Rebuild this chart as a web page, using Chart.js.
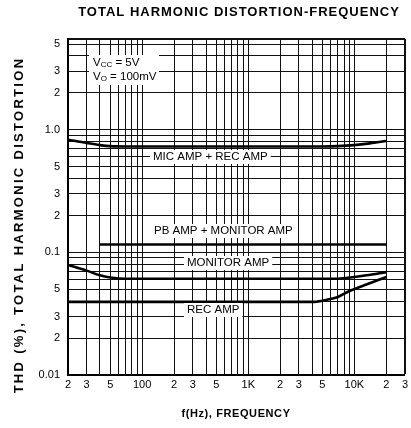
<!DOCTYPE html>
<html>
<head>
<meta charset="utf-8">
<script src="https://cdn.jsdelivr.net/npm/chart.js@4.4.1/dist/chart.umd.min.js"></script>
<style>
  html, body { margin:0; padding:0; background:#fff; }
  #wrap { width:411px; height:428px; }
</style>
</head>
<body>
<div id="wrap"><canvas id="thd" width="411" height="428"></canvas></div>
<script>
'use strict';
// ── THD vs frequency, log-log

const micFreq = [20, 30, 40, 50, 70, 5000, 7000, 10000, 14000, 20000];
const micThd  = [0.83, 0.78, 0.75, 0.735, 0.73, 0.73, 0.735, 0.75, 0.775, 0.81];

const pbFreq  = [40, 20000];
const pbThd   = [0.116, 0.116];

const monFreq = [20, 30, 40, 50, 70, 7000, 10000, 13000, 20000];
const monThd  = [0.079, 0.071, 0.065, 0.0625, 0.061, 0.061, 0.063, 0.065, 0.069];

const recFreq = [20, 4200, 5500, 7000, 8800, 12400, 20000];
const recThd  = [0.0395, 0.0395, 0.041, 0.0433, 0.048, 0.054, 0.063];

// tick labels (only on 2, 3, 5 and decades)
const xTickValues = [20, 30, 50, 100, 200, 300, 500, 1000, 2000, 3000, 5000, 10000, 20000, 30000];
const xTickLabels = ['2', '3', '5', '100', '2', '3', '5', '1K', '2', '3', '5', '10K', '2', '3'];
const yTickValues = [5, 3, 2, 1, 0.5, 0.3, 0.2, 0.1, 0.05, 0.03, 0.02, 0.01];
const yTickLabels = ['5', '3', '2', '1.0', '5', '3', '2', '0.1', '5', '3', '2', '0.01'];

// grid lines: every 1..9 step of each decade
const xGridValues = [20, 30, 40, 50, 60, 70, 80, 90,
  100, 200, 300, 400, 500, 600, 700, 800, 900,
  1000, 2000, 3000, 4000, 5000, 6000, 7000, 8000, 9000,
  10000, 20000, 30000];
const yGridValues = [0.01, 0.02, 0.03, 0.04, 0.05, 0.06, 0.07, 0.08, 0.09,
  0.1, 0.2, 0.3, 0.4, 0.5, 0.6, 0.7, 0.8, 0.9,
  1, 2, 3, 4, 5, 5.5];

const curveLabels = [
  { text:'MIC AMP + REC AMP',    x:153, y:157 },
  { text:'PB AMP + MONITOR AMP', x:154, y:231 },
  { text:'MONITOR AMP',          x:187, y:263 },
  { text:'REC AMP',              x:187, y:310 },
];

const FONT = "'Liberation Sans', Arial, Helvetica, sans-serif";

function pts(xs, ys) { return xs.map((x, i) => ({ x, y: ys[i] })); }

function curve(data) {
  return { data, borderColor:'#000', borderWidth:2.6, pointRadius:0, showLine:true,
           cubicInterpolationMode:'monotone', fill:false };
}

function spacedText(ctx, txt, x, y, spacing) {
  ctx.letterSpacing = spacing + 'px';
  ctx.fillText(txt, x, y);
  ctx.letterSpacing = '0px';
}

const textPlugin = {
  id:'thdText',
  afterDatasetsDraw(chart) {
    const ctx = chart.ctx;
    ctx.save();
    ctx.fillStyle = '#000';
    ctx.textBaseline = 'middle';

    // curve names on white boxes
    ctx.font = '11.5px ' + FONT;
    curveLabels.forEach(l => {
      const w = ctx.measureText(l.text).width;
      ctx.fillStyle = '#fff';
      ctx.fillRect(l.x - 3, l.y - 7, w + 6, 14);
      ctx.fillStyle = '#000';
      ctx.textAlign = 'left';
      ctx.fillText(l.text, l.x, l.y);
    });

    // conditions box
    ctx.fillStyle = '#fff';
    ctx.fillRect(89, 55, 70, 30);
    ctx.fillStyle = '#000';
    ctx.textAlign = 'left';
    [['CC', ' = 5V', 63], ['O', ' = 100mV', 77]].forEach(([sub, rest, y]) => {
      let x = 93;
      ctx.font = '11.5px ' + FONT;
      ctx.fillText('V', x, y);
      x += ctx.measureText('V').width;
      ctx.font = '8px ' + FONT;
      ctx.fillText(sub, x, y + 2);
      x += ctx.measureText(sub).width;
      ctx.font = '11.5px ' + FONT;
      ctx.fillText(rest, x, y);
    });

    // title
    ctx.font = 'bold 13px ' + FONT;
    ctx.textAlign = 'center';
    spacedText(ctx, 'TOTAL HARMONIC DISTORTION-FREQUENCY', 239, 12, 1);

    // x axis title
    ctx.font = 'bold 11px ' + FONT;
    spacedText(ctx, 'f(Hz), FREQUENCY', 236, 414, 0.6);

    // y axis title
    ctx.translate(19, 225);
    ctx.rotate(-Math.PI / 2);
    ctx.font = 'bold 13px ' + FONT;
    spacedText(ctx, 'THD (%), TOTAL HARMONIC DISTORTION', 0, 0, 2.3);
    ctx.restore();
  }
};

const gridWidth = edgeVals => c => (c.tick && edgeVals.includes(c.tick.value)) ? 2 : 1;

new Chart(document.getElementById('thd'), {
  type:'scatter',
  data:{ datasets:[
    curve(pts(micFreq, micThd)),
    curve(pts(pbFreq, pbThd)),
    curve(pts(monFreq, monThd)),
    curve(pts(recFreq, recThd)),
  ] },
  options:{
    responsive:false, animation:false, devicePixelRatio:1,
    layout:{ padding:{ top:39, right:4, left:0, bottom:0 } },
    plugins:{ legend:{ display:false }, tooltip:{ enabled:false }, title:{ display:false } },
    scales:{
      x:{
        type:'logarithmic', min:20, max:30000,
        afterBuildTicks: s => { s.ticks = xGridValues.map(v => ({ value:v })); },
        afterFit: s => { s.height = 53; },
        ticks:{ autoSkip:false, maxRotation:0, padding:3, color:'#000',
                font:{ family:FONT, size:11 },
                callback: v => { const i = xTickValues.indexOf(v); return i < 0 ? '' : xTickLabels[i]; } },
        grid:{ color:'#111', lineWidth:gridWidth([30000]), drawTicks:false },
        border:{ color:'#000', width:2 },
      },
      y:{
        type:'logarithmic', min:0.01, max:5.5,
        afterBuildTicks: s => { s.ticks = yGridValues.map(v => ({ value:v })); },
        afterFit: s => { s.width = 68; },
        ticks:{ autoSkip:false, padding:8, color:'#000',
                font:{ family:FONT, size:11 },
                callback: v => { const i = yTickValues.indexOf(v); return i < 0 ? '' : yTickLabels[i]; } },
        grid:{ color:'#111', lineWidth:gridWidth([5.5]), drawTicks:false },
        border:{ color:'#000', width:2 },
      },
    },
  },
  plugins:[textPlugin],
});
</script>
</body>
</html>
